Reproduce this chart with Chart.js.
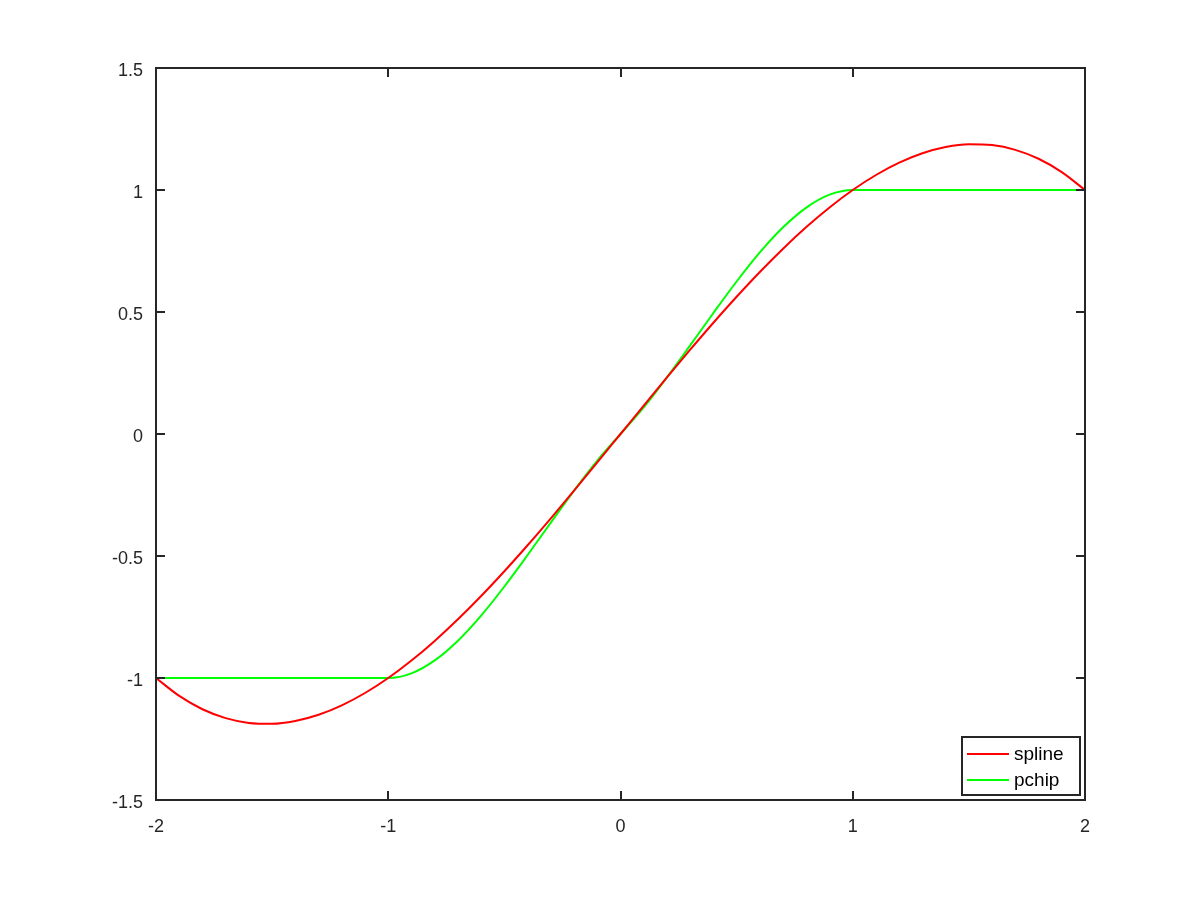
<!DOCTYPE html>
<html><head><meta charset="utf-8">
<script src="https://cdn.jsdelivr.net/npm/chart.js@4/dist/chart.umd.min.js"></script>
<style>html,body{margin:0;padding:0;background:#fff;}canvas{display:block;}</style>
</head><body>
<canvas id="c" width="1200" height="900"></canvas>
<script>
const xs = [-2,-1.9,-1.8,-1.7,-1.6,-1.5,-1.4,-1.3,-1.2,-1.1,-1,-0.9,-0.8,-0.7,-0.6,-0.5,-0.4,-0.3,-0.2,-0.1,0,0.1,0.2,0.3,0.4,0.5,0.6,0.7,0.8,0.9,1,1.1,1.2,1.3,1.4,1.5,1.6,1.7,1.8,1.9,2];
const splineY = [-1,-1.0735,-1.128,-1.1645,-1.184,-1.1875,-1.176,-1.1505,-1.112,-1.0615,-1,-0.9285,-0.848,-0.7595,-0.664,-0.5625,-0.456,-0.3455,-0.232,-0.1165,0,0.1165,0.232,0.3455,0.456,0.5625,0.664,0.7595,0.848,0.9285,1,1.0615,1.112,1.1505,1.176,1.1875,1.184,1.1645,1.128,1.0735,1];
const pchipY = [-1,-1,-1,-1,-1,-1,-1,-1,-1,-1,-1,-0.981,-0.928,-0.847,-0.744,-0.625,-0.496,-0.363,-0.232,-0.109,0,0.109,0.232,0.363,0.496,0.625,0.744,0.847,0.928,0.981,1,1,1,1,1,1,1,1,1,1,1];
const seriesNames = ['spline','pchip'];
const xTicks = [-2,-1,0,1,2];
const yTicks = [-1.5,-1,-0.5,0,0.5,1,1.5];
const yTickLabels = ['-1.5','-1','-0.5','0','0.5','1','1.5'];
const xTickLabels = ['-2','-1','0','1','2'];

const FONT = {family:'"Liberation Sans", Arial, sans-serif', size:18};
const AXC = '#262626';

const frame = {
  id:'frame',
  afterDatasetsDraw(chart){
    const {ctx, chartArea:a, scales:{x,y}} = chart;
    ctx.save();
    ctx.strokeStyle = AXC; ctx.lineWidth = 2;
    ctx.strokeRect(a.left, a.top, a.right-a.left, a.bottom-a.top);
    const L = 9;
    ctx.beginPath();
    xTicks.forEach(v=>{const px=Math.round(x.getPixelForValue(v));
      ctx.moveTo(px,a.bottom); ctx.lineTo(px,a.bottom-L);
      ctx.moveTo(px,a.top); ctx.lineTo(px,a.top+L);});
    yTicks.forEach(v=>{const py=Math.round(y.getPixelForValue(v));
      ctx.moveTo(a.left,py); ctx.lineTo(a.left+L,py);
      ctx.moveTo(a.right,py); ctx.lineTo(a.right-L,py);});
    ctx.stroke();
    // legend
    const bx=962, by=737, bw=118, bh=58;
    ctx.fillStyle='#fff'; ctx.fillRect(bx,by,bw,bh);
    ctx.strokeStyle = AXC; ctx.lineWidth=2; ctx.strokeRect(bx,by,bw,bh);
    ctx.font = '19px "Liberation Sans", Arial, sans-serif';
    ctx.textBaseline='middle'; ctx.textAlign='left';
    chart.data.datasets.forEach((d,i)=>{
      const yy = by+17+i*26;
      ctx.strokeStyle=d.borderColor; ctx.lineWidth=2;
      ctx.beginPath(); ctx.moveTo(967,yy); ctx.lineTo(1009,yy); ctx.stroke();
      ctx.fillStyle='#000'; ctx.fillText(d.label,1014,yy+1);
    });
    ctx.restore();
  }
};

new Chart(document.getElementById('c'), {
  type:'line',
  data:{datasets:[
    {label:seriesNames[0], data:xs.map((v,i)=>({x:v,y:splineY[i]})), borderColor:'#ff0000', borderWidth:2, pointRadius:0, cubicInterpolationMode:'monotone', fill:false},
    {label:seriesNames[1], data:xs.map((v,i)=>({x:v,y:pchipY[i]})), borderColor:'#00ff00', borderWidth:2, pointRadius:0, cubicInterpolationMode:'monotone', fill:false}
  ]},
  options:{
    responsive:false, animation:false, devicePixelRatio:1,
    layout:{padding:{top:68,right:115,left:0,bottom:0}},
    plugins:{legend:{display:false}, tooltip:{enabled:false}},
    scales:{
      x:{type:'linear', min:-2, max:2, grid:{display:false, drawTicks:false}, border:{display:false},
         afterFit(s){s.height=100;},
         afterBuildTicks(s){s.ticks = xTicks.map(v=>({value:v}));},
         ticks:{color:'#262626', font:FONT, padding:16, maxRotation:0, autoSkip:false,
           callback:(v)=>xTickLabels[xTicks.indexOf(v)]}},
      y:{type:'linear', min:-1.5, max:1.5, grid:{display:false, drawTicks:false}, border:{display:false},
         afterFit(s){s.width=156;},
         afterBuildTicks(s){s.ticks = yTicks.map(v=>({value:v}));},
         ticks:{color:'#262626', font:FONT, padding:13, labelOffset:3, autoSkip:false,
           callback:(v)=>yTickLabels[yTicks.indexOf(v)]}}
    }
  },
  plugins:[frame]
});
</script>
</body></html>
